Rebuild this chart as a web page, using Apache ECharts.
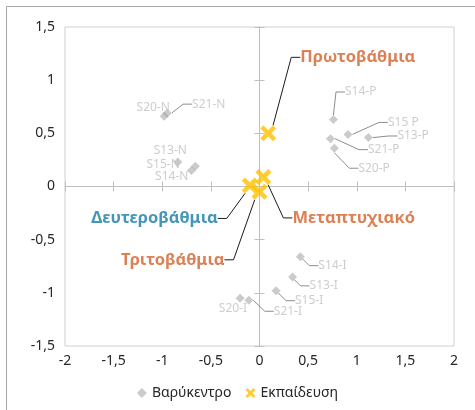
<!DOCTYPE html>
<html>
<head>
<meta charset="utf-8">
<script src="https://cdn.jsdelivr.net/npm/echarts@6/dist/echarts.min.js"></script>
<style>
  html, body { margin: 0; padding: 0; background: #fff; }
  #chart { width: 475px; height: 410px; }
</style>
</head>
<body>
<div id="chart"></div>
<script>
// ---- data ----
const centroidNames = ['S20-N','S21-N','S13-N','S15-N','S14-N',
                       'S14-P','S15 P','S13-P','S21-P','S20-P',
                       'S14-I','S13-I','S15-I','S20-I','S21-I'];
const centroidX = [-0.98,-0.95,-0.66,-0.84,-0.70,
                   0.76,0.91,1.12,0.73,0.77,
                   0.42,0.34,0.17,-0.20,-0.11];
const centroidY = [0.66,0.69,0.19,0.23,0.15,
                   0.63,0.49,0.46,0.45,0.36,
                   -0.66,-0.85,-0.98,-1.05,-1.07];

const eduNames = ['Πρωτοβάθμια','Δευτεροβάθμια','Μεταπτυχιακό','Τριτοβάθμια'];
const eduX = [0.09,-0.10,0.04,0.00];
const eduY = [0.50,0.01,0.09,-0.05];

const xTickLabels = ['-2','-1,5','-1','-0,5','0','0,5','1','1,5','2'];
const yTickLabels = ['-1,5','-1','-0,5','0','0,5','1','1,5'];

const seriesNames = ['Βαρύκεντρο','Εκπαίδευση'];

// ---- label layout (offsets of label anchor from marker centre, px) ----
const centroidLabelPos = [
  [-11,-9,'center'],[25,-9,'left'],[-25,-16,'center'],[2,3,'right'],[-3,6.5,'right'],
  [11.6,-27.5,'left'],[40,-12,'left'],[29,-1.6,'left'],[37.5,11,'left'],[24,20,'left'],
  [18,9,'left'],[17,9,'left'],[19,10,'left'],[7,10,'right'],[25,11,'left']
];
const centroidNoLeader = ['S20-N','S13-N','S15-N','S14-N','S20-I'];
const eduLabelPos = [
  [32,-76,'left'],[-32,33,'right'],[29,41,'left'],[-35,68,'right']
];
const eduColors = ['#D2622A','#157CA8','#D2622A','#D2622A'];

const FONT = 'Noto Sans';
const xPath = 'path://M0,2 L2,0 L5,3 L8,0 L10,2 L7,5 L10,8 L8,10 L5,7 L2,10 L0,8 L3,5 Z';

function layoutFrom(pos) {
  return function (p) {
    const o = pos[p.dataIndex];
    return {
      x: p.rect.x + p.rect.width / 2 + o[0],
      y: p.rect.y + p.rect.height / 2 + o[1],
      align: o[2],
      verticalAlign: 'middle'
    };
  };
}

const centroidData = centroidNames.map((n, i) => {
  const item = { name: n, value: [centroidX[i], centroidY[i]] };
  if (centroidNoLeader.indexOf(n) >= 0) item.labelLine = { show: false };
  return item;
});
const eduData = eduNames.map((n, i) => ({
  name: n,
  value: [eduX[i], eduY[i]],
  label: { color: eduColors[i] }
}));

const xFmt = v => xTickLabels[Math.round((v + 2) / 0.5)];
const yFmt = v => yTickLabels[Math.round((v + 1.5) / 0.5)];

const baseX = { type: 'value', min: -2, max: 2, interval: 0.5, splitLine: { show: false } };
const baseY = { type: 'value', min: -1.5, max: 1.5, interval: 0.5, splitLine: { show: false } };

const chart = echarts.init(document.getElementById('chart'), null, { renderer: 'canvas' });
chart.setOption({
  animation: false,
  textStyle: { fontFamily: FONT },
  grid: { left: 65, right: 21, top: 27, bottom: 64, show: true, borderColor: '#d0d0d0', borderWidth: 1 },
  graphic: [{
    type: 'rect', shape: { x: 6.5, y: 6.5, width: 600, height: 600 },
    style: { fill: 'none', stroke: '#a6a6a6', lineWidth: 1 }, silent: true
  }],
  xAxis: [
    Object.assign({}, baseX, {
      position: 'bottom',
      axisLine: { show: true, onZero: true, onZeroAxisIndex: 0, lineStyle: { color: '#bfbfbf', width: 1 } },
      axisTick: { show: true, length: 5, lineStyle: { color: '#bfbfbf' } },
      axisLabel: { show: false }
    }),
    Object.assign({}, baseX, {
      position: 'bottom',
      axisLine: { show: false, onZero: false },
      axisTick: { show: false },
      axisLabel: { show: true, formatter: xFmt, color: '#262626', fontSize: 14, margin: 8, fontFamily: FONT }
    }),
    Object.assign({}, baseX, {
      position: 'bottom',
      axisLine: { show: false, onZero: true, onZeroAxisIndex: 1 },
      axisTick: { show: true, inside: true, length: 5, lineStyle: { color: '#bfbfbf' } },
      axisLabel: { show: false }
    })
  ],
  yAxis: [
    Object.assign({}, baseY, {
      position: 'left',
      axisLine: { show: true, onZero: true, onZeroAxisIndex: 0, lineStyle: { color: '#bfbfbf', width: 1 } },
      axisTick: { show: true, length: 5, lineStyle: { color: '#bfbfbf' } },
      axisLabel: { show: false }
    }),
    Object.assign({}, baseY, {
      position: 'left',
      axisLine: { show: false, onZero: false },
      axisTick: { show: false },
      axisLabel: { show: true, formatter: yFmt, color: '#262626', fontSize: 14, margin: 10, fontFamily: FONT }
    }),
    Object.assign({}, baseY, {
      position: 'left',
      axisLine: { show: false, onZero: true, onZeroAxisIndex: 1 },
      axisTick: { show: true, inside: true, length: 5, lineStyle: { color: '#bfbfbf' } },
      axisLabel: { show: false }
    })
  ],
  legend: {
    bottom: 5, left: 'center',
    itemWidth: 10, itemHeight: 10, itemGap: 14,
    textStyle: { color: '#262626', fontSize: 14, fontFamily: FONT },
    data: seriesNames
  },
  series: [
    {
      name: seriesNames[0],
      type: 'scatter',
      xAxisIndex: 0, yAxisIndex: 0,
      symbol: 'diamond', symbolSize: 9,
      itemStyle: { color: 'rgba(150,150,150,0.62)' },
      label: { show: true, formatter: '{b}', color: '#c0c0c0', fontSize: 12, fontFamily: FONT },
      labelLine: { show: true, length2: 9, lineStyle: { color: '#8c8c8c', width: 1 } },
      labelLayout: layoutFrom(centroidLabelPos),
      data: centroidData,
      z: 2
    },
    {
      name: seriesNames[1],
      type: 'scatter',
      xAxisIndex: 0, yAxisIndex: 0,
      symbol: xPath, symbolSize: 16,
      itemStyle: { color: '#FFC000' },
      label: { show: true, formatter: '{b}', fontSize: 16.5, fontWeight: 'bold', fontFamily: FONT },
      labelLine: { show: true, length2: 9, lineStyle: { color: '#1a1a1a', width: 1 } },
      labelLayout: layoutFrom(eduLabelPos),
      data: eduData,
      z: 3
    }
  ]
});
</script>
</body>
</html>
